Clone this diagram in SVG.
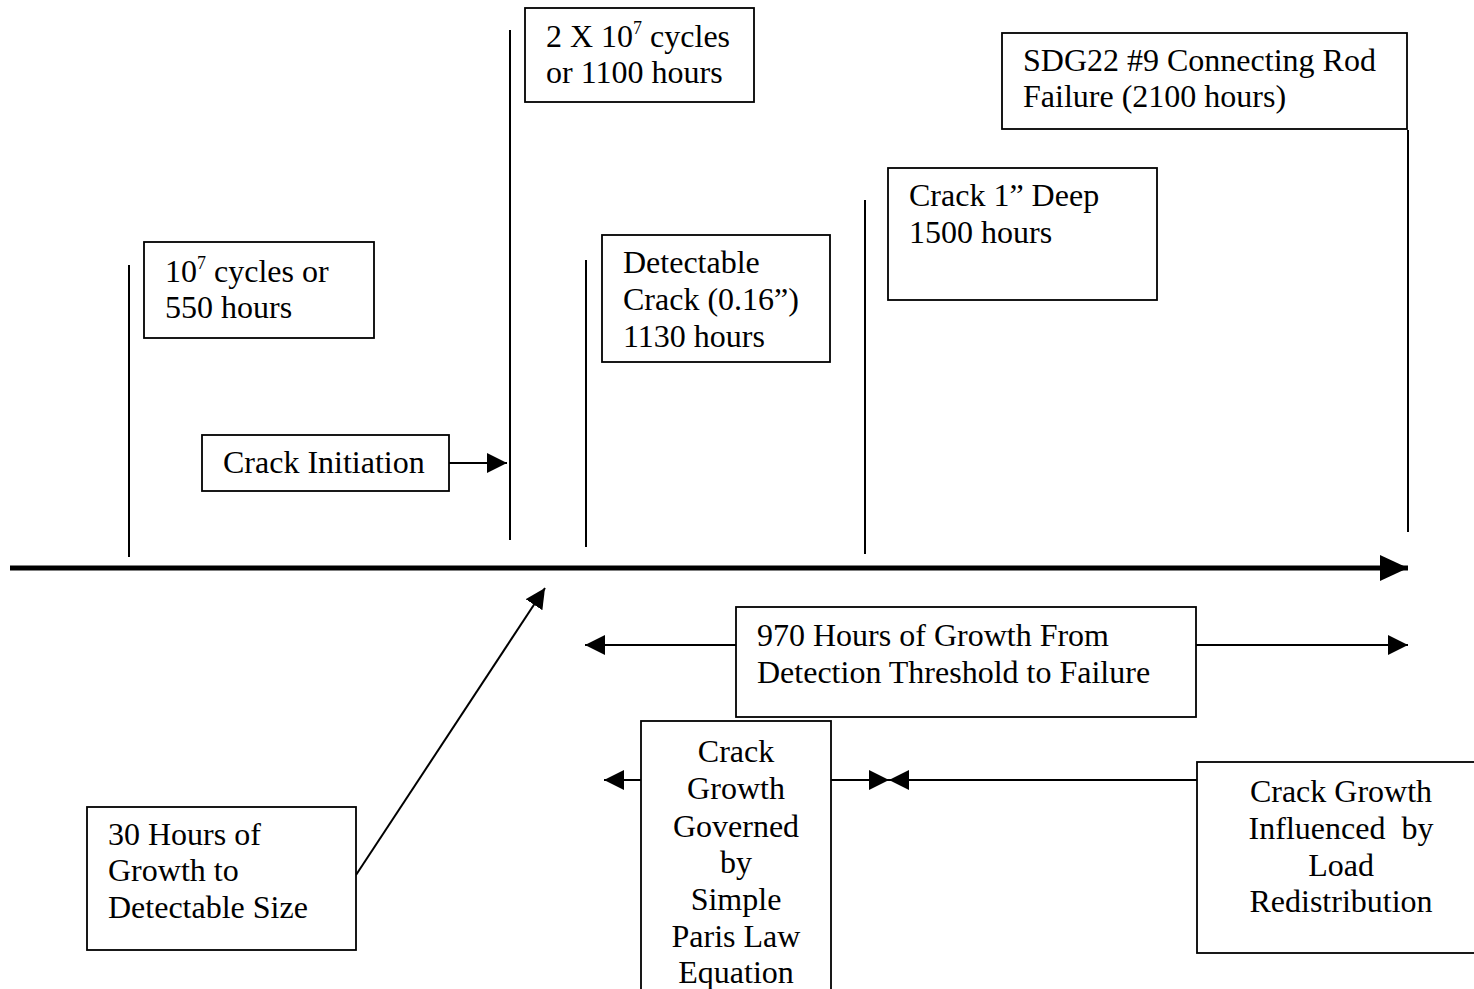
<svg xmlns="http://www.w3.org/2000/svg" width="1474" height="989" viewBox="0 0 1474 989">
<style>
  .box { fill: #fff; stroke: #000; stroke-width: 1.8; }
  .t { font-family: "Liberation Serif", "Times New Roman", serif; font-size: 32px; fill: #000; white-space: pre; }
  .c { text-anchor: middle; }
  .sup { font-size: 18px; }
  .v { stroke: #000; stroke-width: 2; fill: none; }
  .a { stroke: #000; stroke-width: 2; fill: none; marker-end: url(#ah); }
</style>
<defs>
  <marker id="ah" markerUnits="userSpaceOnUse" markerWidth="20" markerHeight="20" refX="20" refY="10" orient="auto">
    <path d="M0,0 L20,10 L0,20 z" fill="#000"/>
  </marker>
  <marker id="big" markerUnits="userSpaceOnUse" markerWidth="28" markerHeight="28" refX="28" refY="14" orient="auto">
    <path d="M0,1 L28,14 L0,27 z" fill="#000"/>
  </marker>
</defs>
<rect width="1474" height="989" fill="#fff"/>

<g id="connectors">
  <line x1="10" y1="568" x2="1408" y2="568" stroke="#000" stroke-width="5" marker-end="url(#big)"/>
  <line class="v" x1="129" y1="265" x2="129" y2="557"/>
  <line class="v" x1="510" y1="30" x2="510" y2="540"/>
  <line class="v" x1="586" y1="260" x2="586" y2="547"/>
  <line class="v" x1="865" y1="200" x2="865" y2="554"/>
  <line class="v" x1="1408" y1="130" x2="1408" y2="532"/>
  <line class="a" x1="449" y1="463" x2="507" y2="463"/>
  <line class="a" x1="736" y1="645" x2="585" y2="645"/>
  <line class="a" x1="1196" y1="645" x2="1408" y2="645"/>
  <line class="a" x1="641" y1="780" x2="604" y2="780"/>
  <line class="a" x1="831" y1="780" x2="889" y2="780"/>
  <line class="a" x1="1197" y1="780" x2="889" y2="780"/>
  <line class="a" x1="356" y1="875" x2="545" y2="588"/>
</g>

<g id="n550">
  <rect class="box" x="144" y="242" width="230" height="96"/>
  <text class="t" x="165" y="282">10<tspan class="sup" dy="-13">7</tspan><tspan dy="13"> cycles or</tspan></text>
  <text class="t" x="165" y="318">550 hours</text>
</g>

<g id="n1100">
  <rect class="box" x="525" y="8" width="229" height="94"/>
  <text class="t" x="546" y="47">2 X 10<tspan class="sup" dy="-13">7</tspan><tspan dy="13"> cycles</tspan></text>
  <text class="t" x="546" y="83">or 1100 hours</text>
</g>

<g id="n2100">
  <rect class="box" x="1002" y="33" width="405" height="96"/>
  <text class="t" x="1023" y="71">SDG22 #9 Connecting Rod</text>
  <text class="t" x="1023" y="107">Failure (2100 hours)</text>
</g>

<g id="n1500">
  <rect class="box" x="888" y="168" width="269" height="132"/>
  <text class="t" x="909" y="206">Crack 1” Deep</text>
  <text class="t" x="909" y="243">1500 hours</text>
</g>

<g id="n1130">
  <rect class="box" x="602" y="235" width="228" height="127"/>
  <text class="t" x="623" y="273">Detectable</text>
  <text class="t" x="623" y="310">Crack (0.16”)</text>
  <text class="t" x="623" y="347">1130 hours</text>
</g>

<g id="initiation">
  <rect class="box" x="202" y="435" width="247" height="56"/>
  <text class="t" x="223" y="473">Crack Initiation</text>
</g>

<g id="n970">
  <rect class="box" x="736" y="607" width="460" height="110"/>
  <text class="t" x="757" y="646">970 Hours of Growth From</text>
  <text class="t" x="757" y="683">Detection Threshold to Failure</text>
</g>

<g id="paris">
  <rect class="box" x="641" y="721" width="190" height="290"/>
  <text class="t c" x="736" y="762">Crack</text>
  <text class="t c" x="736" y="799">Growth</text>
  <text class="t c" x="736" y="837">Governed</text>
  <text class="t c" x="736" y="873">by</text>
  <text class="t c" x="736" y="910">Simple</text>
  <text class="t c" x="736" y="947">Paris Law</text>
  <text class="t c" x="736" y="983">Equation</text>
</g>

<g id="redistribution">
  <rect class="box" x="1197" y="762" width="300" height="191"/>
  <text class="t c" x="1341" y="802">Crack Growth</text>
  <text class="t c" x="1341" y="839">Influenced  by</text>
  <text class="t c" x="1341" y="876">Load</text>
  <text class="t c" x="1341" y="912">Redistribution</text>
</g>

<g id="n30">
  <rect class="box" x="87" y="807" width="269" height="143"/>
  <text class="t" x="108" y="845">30 Hours of</text>
  <text class="t" x="108" y="881">Growth to</text>
  <text class="t" x="108" y="918">Detectable Size</text>
</g>
</svg>
